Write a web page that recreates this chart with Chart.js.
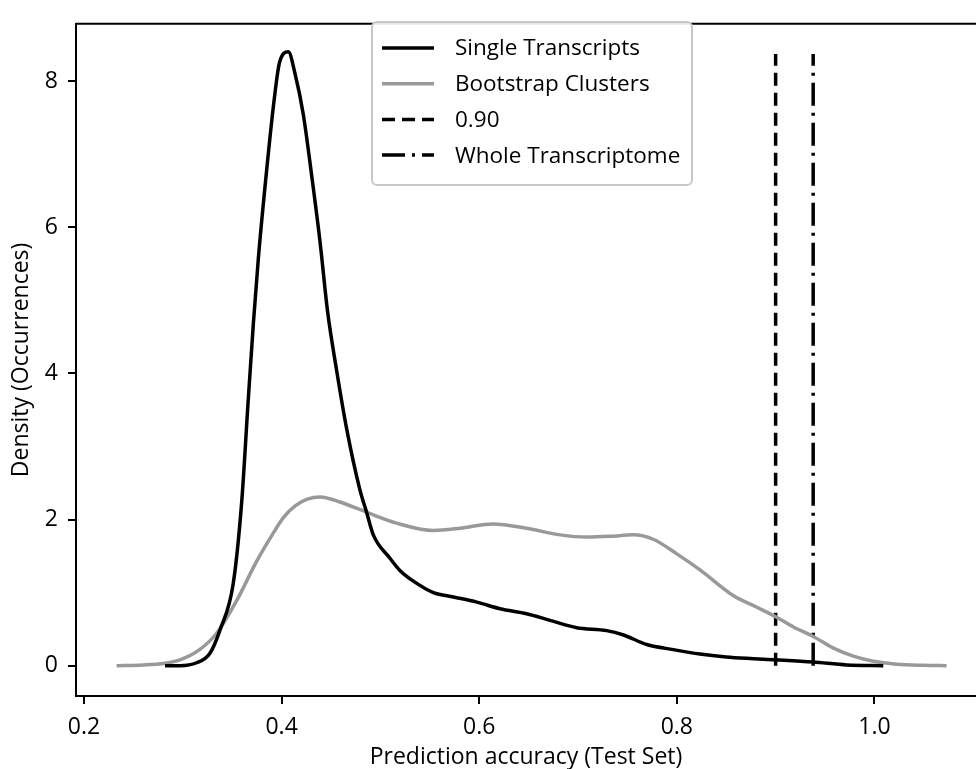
<!DOCTYPE html>
<html>
<head>
<meta charset="utf-8">
<script src="https://cdn.jsdelivr.net/npm/chart.js@4"></script>
<style>
  body { margin: 0; background: #fff; }
  #wrap { width: 976px; height: 769px; }
</style>
</head>
<body>
<div id="wrap"><canvas id="density-chart"></canvas></div>
<script>
const singleX = [0.282, 0.297, 0.314, 0.3275, 0.3377, 0.351, 0.3596, 0.366, 0.3714, 0.3765, 0.385, 0.3926, 0.398, 0.4068, 0.4136, 0.422, 0.4305, 0.4389, 0.4465, 0.4557, 0.466, 0.479, 0.486, 0.4928, 0.5097, 0.52, 0.533, 0.5536, 0.574, 0.5975, 0.621, 0.648, 0.6717, 0.6987, 0.729, 0.746, 0.7695, 0.7965, 0.8235, 0.85, 0.871, 0.90, 0.938, 0.972, 1.009];
const singleY = [0, 0.0, 0.04, 0.17, 0.49, 1.12, 2.24, 3.59, 4.68, 5.58, 6.8, 7.76, 8.26, 8.4, 8.1, 7.54, 6.7, 5.8, 4.85, 4.04, 3.23, 2.42, 2.1, 1.79, 1.47, 1.30, 1.16, 1.0, 0.94, 0.87, 0.78, 0.71, 0.62, 0.52, 0.48, 0.42, 0.29, 0.22, 0.16, 0.12, 0.10, 0.08, 0.05, 0.01, 0];

const bootX = [0.233, 0.26, 0.28, 0.297, 0.317, 0.334, 0.3545, 0.3748, 0.39, 0.402, 0.414, 0.426, 0.4389, 0.459, 0.486, 0.5165, 0.5536, 0.5806, 0.614, 0.648, 0.682, 0.7088, 0.7324, 0.756, 0.776, 0.80, 0.8235, 0.857, 0.881, 0.90, 0.918, 0.938, 0.9585, 0.9787, 0.999, 1.0226, 1.05, 1.073];
const bootY = [0, 0.01, 0.03, 0.08, 0.22, 0.44, 0.89, 1.43, 1.78, 2.03, 2.19, 2.28, 2.31, 2.24, 2.1, 1.95, 1.85, 1.88, 1.94, 1.88, 1.79, 1.76, 1.77, 1.79, 1.73, 1.53, 1.31, 0.96, 0.80, 0.67, 0.53, 0.40, 0.24, 0.13, 0.06, 0.02, 0.005, 0];

const thresholdX = 0.90;
const wholeX = 0.938;
const markerTop = 8.37;

const xTicks = [0.2, 0.4, 0.6, 0.8, 1.0];
const yTicks = [0, 2, 4, 6, 8];

const FONT = "'Open Sans', sans-serif";

function toPoints(xs, ys) {
  return xs.map((x, i) => ({ x: x, y: ys[i] }));
}

// legend drawn inside the plot with a rounded frame, like the original
const insideLegend = {
  id: "insideLegend",
  afterDraw(chart) {
    const ctx = chart.ctx;
    const area = chart.chartArea;
    ctx.save();
    // top spine
    ctx.strokeStyle = "#000";
    ctx.lineWidth = 2;
    ctx.beginPath();
    ctx.moveTo(area.left, area.top);
    ctx.lineTo(area.right, area.top);
    ctx.stroke();

    const bx = 372, by = 22, bw = 320, bh = 163, r = 5;
    ctx.strokeStyle = "#c8c8c8";
    ctx.lineWidth = 2;
    ctx.fillStyle = "rgba(255,255,255,0.9)";
    ctx.beginPath();
    ctx.roundRect(bx, by, bw, bh, r);
    ctx.fill();
    ctx.stroke();

    ctx.font = "22.5px " + FONT;
    ctx.textBaseline = "middle";
    chart.data.datasets.forEach((ds, i) => {
      const y = 48 + i * 35.7;
      ctx.strokeStyle = ds.borderColor;
      ctx.lineWidth = 3.5;
      ctx.setLineDash(ds.borderDash || []);
      ctx.beginPath();
      ctx.moveTo(382, y);
      ctx.lineTo(434, y);
      ctx.stroke();
      ctx.setLineDash([]);
      ctx.fillStyle = "#000";
      ctx.fillText(ds.label, 455, y + 1);
    });
    ctx.restore();
  },
};

const ctx = document.getElementById("density-chart").getContext("2d");

const densityChart = new Chart(ctx, {
  type: "line",
  data: {
    datasets: [
      {
        label: "Single Transcripts",
        data: toPoints(singleX, singleY),
        borderColor: "#000000",
        borderWidth: 3.5,
        pointRadius: 0,
        cubicInterpolationMode: "monotone",
        fill: false,
      },
      {
        label: "Bootstrap Clusters",
        data: toPoints(bootX, bootY),
        borderColor: "#999999",
        borderWidth: 3.5,
        pointRadius: 0,
        cubicInterpolationMode: "monotone",
        fill: false,
      },
      {
        label: "0.90",
        data: [{ x: thresholdX, y: 0 }, { x: thresholdX, y: markerTop }],
        borderColor: "#000000",
        borderWidth: 3.5,
        borderDash: [13, 7],
        pointRadius: 0,
        fill: false,
      },
      {
        label: "Whole Transcriptome",
        data: [{ x: wholeX, y: 0 }, { x: wholeX, y: markerTop }],
        borderColor: "#000000",
        borderWidth: 3.5,
        borderDash: [23, 7, 3, 7],
        pointRadius: 0,
        fill: false,
      },
    ],
  },
  options: {
    responsive: true,
    maintainAspectRatio: false,
    animation: false,
    layout: { padding: { top: 16, right: 0, left: 0, bottom: 0 } },
    plugins: {
      legend: { display: false },
      tooltip: { enabled: false },
    },
    scales: {
      x: {
        type: "linear",
        min: 0.1919,
        max: 1.1028,
        afterBuildTicks: (scale) => { scale.ticks = xTicks.map((v) => ({ value: v })); },
        afterFit: (scale) => { scale.height = 73; },
        ticks: {
          color: "#000",
          font: { family: FONT, size: 23 },
          padding: 10,
          maxRotation: 0,
          callback: (v) => v.toFixed(1),
        },
        grid: { display: true, drawOnChartArea: false, drawTicks: true, tickLength: 8, color: "#000", lineWidth: 2 },
        border: { display: true, color: "#000", width: 2 },
        title: {
          display: true,
          text: "Prediction accuracy (Test Set)",
          color: "#000",
          font: { family: FONT, size: 23, lineHeight: 1.0 },
          padding: 0,
        },
      },
      y: {
        min: -0.415,
        max: 8.784,
        afterBuildTicks: (scale) => { scale.ticks = yTicks.map((v) => ({ value: v })); },
        afterFit: (scale) => { scale.width = 76; },
        ticks: {
          color: "#000",
          font: { family: FONT, size: 23 },
          padding: 10,
        },
        grid: { display: true, drawOnChartArea: false, drawTicks: true, tickLength: 8, color: "#000", lineWidth: 2 },
        border: { display: true, color: "#000", width: 2 },
        title: {
          display: true,
          text: "Density (Occurrences)",
          color: "#000",
          font: { family: FONT, size: 23, lineHeight: 1.0 },
          padding: { top: 10, bottom: 0 },
        },
      },
    },
  },
  plugins: [insideLegend],
});
</script>
</body>
</html>
